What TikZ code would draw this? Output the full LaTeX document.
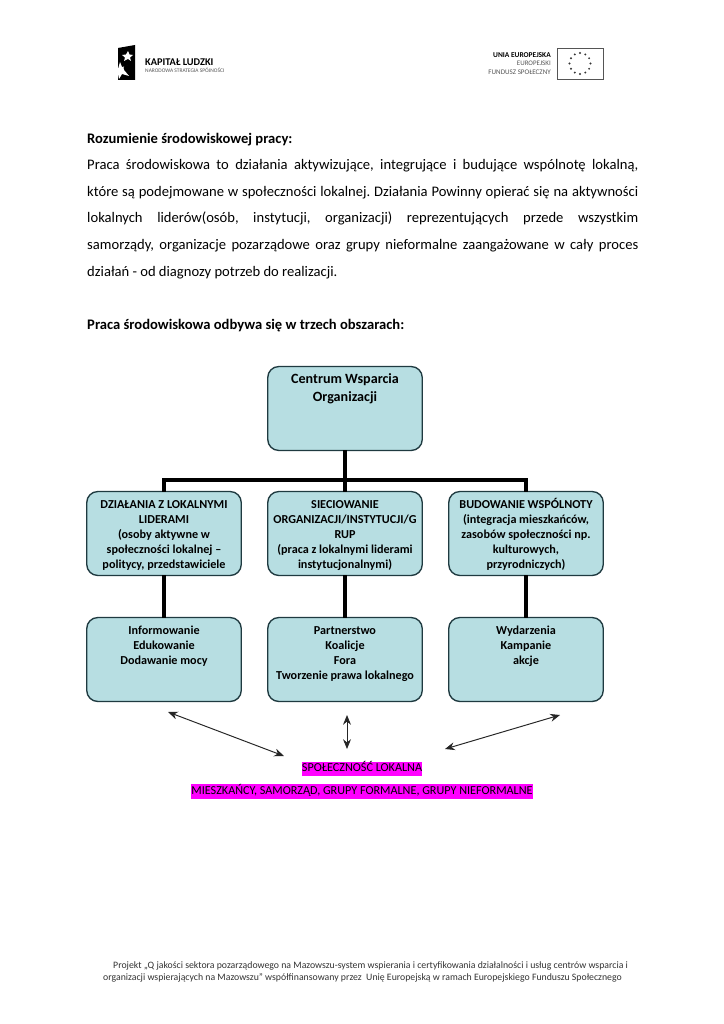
\documentclass[tikz,border=0pt]{standalone}
\usepackage{fontspec}
\usetikzlibrary{arrows.meta}
\setmainfont{Carlito}
\frenchspacing
\definecolor{boxfill}{HTML}{B7DEE2}
\definecolor{boxline}{HTML}{1F3A40}
\definecolor{logogray}{HTML}{555555}
\definecolor{markpink}{HTML}{FF00FF}
\newcommand{\boxtext}[2]{\parbox[c][#1][t]{122pt}{\centering\bfseries\rule{0pt}{12pt}#2}}
\tikzset{
  orgbox/.style={draw=boxline,fill=boxfill,line width=1.1pt,rounded corners=9pt,
    minimum width=127pt,inner sep=2pt,outer sep=0pt,align=center},
  bar/.style={line width=2.5pt,black},
  twoway/.style={{Stealth[length=8pt,width=6.5pt]}-{Stealth[length=8pt,width=6.5pt]},line width=0.8pt,black!85},
  mark box/.style={fill=markpink,inner sep=0pt,outer sep=0pt,text height=8.2pt,text depth=3.4pt},
  foot/.style={font=\fontsize{8.05}{10}\selectfont,inner sep=0pt,text=black!80},
  head/.style={anchor=base west,inner sep=0pt,font=\fontsize{12}{14}\selectfont\bfseries}
}
\begin{document}
\begin{tikzpicture}[x=0.8222pt,y=-0.8222pt]
  \useasboundingbox[fill=white] (0,0) rectangle (724,1024);

  % logo left
  \fill[black] (118,48) -- (135,45) -- (135,80) -- (118,80) -- cycle;
  \fill[white] (128,51) -- (129.5,54.5) -- (133,55) -- (130,57.5) -- (131,61) -- (128,59) -- (124,61) -- (125,57.5) -- (122,55) -- (126,54.5) -- cycle;
  \fill[white] (120,62) -- (122,67) -- (127,66) -- (124,70) -- (129,76) -- (122,74) -- (119,79) -- (118,74) -- (113,73) -- (118,69) -- cycle;
  \fill[black] (126,68) circle (2.4);
  \node (kapital) at (145,62) [anchor=west,inner sep=0pt,font=\fontsize{8.5}{9}\selectfont\bfseries] {KAPITAŁ LUDZKI};
  \node (strategia) at (145,70.5) [anchor=west,inner sep=0pt,text=logogray,font=\fontsize{4.5}{5}\selectfont] {NARODOWA STRATEGIA SPÓJNOŚCI};

  % logo right
  \node (unia) at (551,55) [anchor=east,inner sep=0pt,font=\fontsize{6.1}{7}\selectfont\bfseries] {UNIA EUROPEJSKA};
  \node (europejski) at (551,63.5) [anchor=east,inner sep=0pt,text=logogray,font=\fontsize{5.7}{7}\selectfont] {EUROPEJSKI};
  \node (fundusz) at (551,72) [anchor=east,inner sep=0pt,text=logogray,font=\fontsize{5.8}{7}\selectfont] {FUNDUSZ SPOŁECZNY};
  \draw[logogray,line width=0.8pt] (557,48) rectangle (603,79);
  \foreach \a in {0,30,...,330}
    \fill[black!80] (580,63.5) ++(\a:10.5) circle (1.1);

  % text
  \node (title) at (87,143) [head] {Rozumienie środowiskowej pracy:};
  \node (para) at (87,159) [anchor=north west,inner sep=0pt,text width=551*0.8222pt,align=justify,
    font=\fontsize{12}{22}\selectfont] {Praca środowiskowa to działania aktywizujące, integrujące i budujące wspólnotę lokalną,\linebreak
    które są podejmowane w społeczności lokalnej. Działania Powinny opierać się na aktywności\linebreak
    lokalnych liderów(osób, instytucji, organizacji) reprezentujących przede wszystkim\linebreak
    samorządy, organizacje pozarządowe oraz grupy nieformalne zaangażowane w cały proces\linebreak
    działań - od diagnozy potrzeb do realizacji.};
  \node (areas) at (87,329) [head] {Praca środowiskowa odbywa się w trzech obszarach:};

  % boxes
  \node (centrum) at (345,408.5) [orgbox] {\boxtext{65pt}{\fontsize{11.6}{14.6}\selectfont Centrum Wsparcia\\Organizacji}};
  \node (dzialania) at (164,533.5) [orgbox] {\boxtext{65pt}{\fontsize{10}{12.3}\selectfont DZIAŁANIA Z LOKALNYMI\\LIDERAMI\\(osoby aktywne w\\społeczności lokalnej --\\politycy, przedstawiciele}};
  \node (siec) at (345,533.5) [orgbox] {\boxtext{65pt}{\fontsize{10}{12.3}\selectfont SIECIOWANIE\\ORGANIZACJI/INSTYTUCJI/G\\RUP\\(praca z lokalnymi liderami\\instytucjonalnymi)}};
  \node (budowanie) at (526,533.5) [orgbox] {\boxtext{65pt}{\fontsize{10}{12.3}\selectfont BUDOWANIE WSPÓLNOTY\\(integracja mieszkańców,\\zasobów społeczności np.\\kulturowych,\\przyrodniczych)}};
  \node (inform) at (164,659.5) [orgbox] {\boxtext{65pt}{\fontsize{10}{12.3}\selectfont Informowanie\\Edukowanie\\Dodawanie mocy}};
  \node (partner) at (345,659.5) [orgbox] {\boxtext{65pt}{\fontsize{10}{12.3}\selectfont Partnerstwo\\Koalicje\\Fora\\Tworzenie prawa lokalnego}};
  \node (wydarz) at (526,659.5) [orgbox] {\boxtext{65pt}{\fontsize{10}{12.3}\selectfont Wydarzenia\\Kampanie\\akcje}};

  % connectors
  \coordinate (hub) at (345,480);
  \draw[bar] (centrum.south) -- (siec.north);
  \draw[bar] (dzialania.north) |- (hub) -| (budowanie.north);
  \draw[bar] (dzialania.south) -- (inform.north);
  \draw[bar] (siec.south) -- (partner.north);
  \draw[bar] (budowanie.south) -- (wydarz.north);

  % community
  \node (spol) at (362,769) [mark box,font=\fontsize{10}{12}\selectfont] {SPOŁECZNOŚĆ LOKALNA};
  \node (miesz) at (362,791.5) [mark box,font=\fontsize{10}{12}\selectfont] {MIESZKAŃCY, SAMORZĄD, GRUPY FORMALNE, GRUPY NIEFORMALNE};

  \coordinate (leftup) at (168,712);
  \coordinate (leftdown) at (284,756);
  \coordinate (midup) at (347,715);
  \coordinate (middown) at (347,749);
  \coordinate (rightup) at (560,715);
  \coordinate (rightdown) at (445,749);
  \draw[twoway] (leftup) -- (leftdown);
  \draw[twoway] (midup) -- (middown);
  \draw[twoway] (rightup) -- (rightdown);

  % footer
  \node (foota) at (113,965.5) [foot,anchor=west] {Projekt „Q jakości sektora pozarządowego na Mazowszu-system wspierania i certyfikowania działalności i usług centrów wsparcia i};
  \node (footb) at (103,977.5) [foot,anchor=west] {organizacji wspierających na Mazowszu” współfinansowany przez\ \ Unię Europejską w ramach Europejskiego Funduszu Społecznego};
\end{tikzpicture}
\end{document}
